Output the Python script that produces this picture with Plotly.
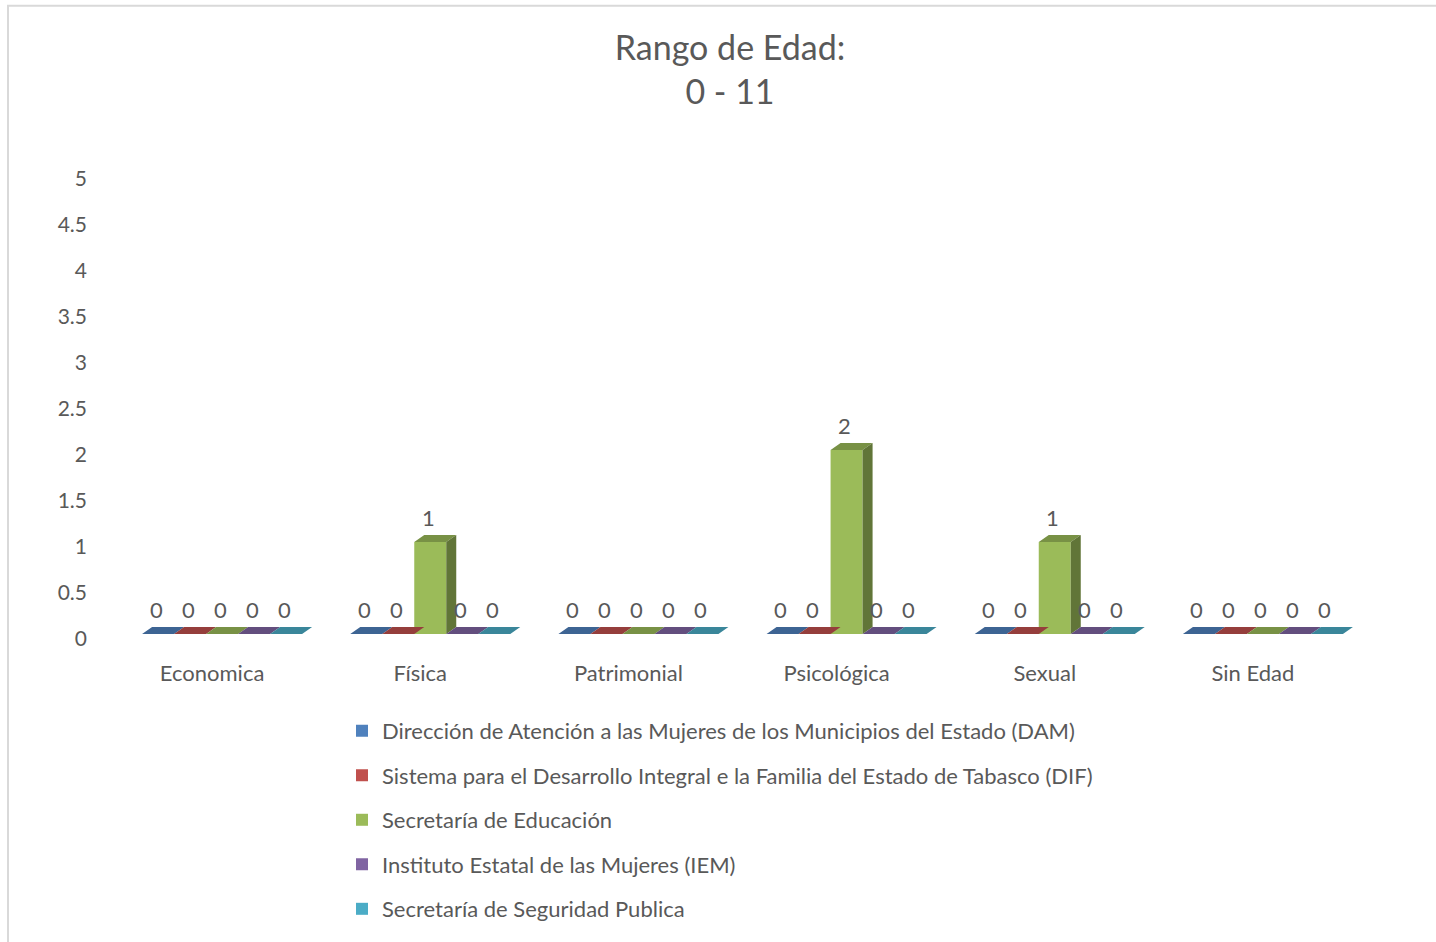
import plotly.graph_objects as go

# ---------------- data ----------------
categories = ["Economica", "Física", "Patrimonial", "Psicológica", "Sexual", "Sin Edad"]
series_names = [
    "Dirección de Atención a las Mujeres de los Municipios del Estado (DAM)",
    "Sistema para el Desarrollo Integral e la Familia del Estado de Tabasco (DIF)",
    "Secretaría de Educación",
    "Instituto Estatal de las Mujeres (IEM)",
    "Secretaría de Seguridad Publica",
]
dam = [0, 0, 0, 0, 0, 0]
dif = [0, 0, 0, 0, 0, 0]
educacion = [0, 1, 0, 2, 1, 0]
iem = [0, 0, 0, 0, 0, 0]
ssp = [0, 0, 0, 0, 0, 0]
y_tick_vals = [0, 0.5, 1, 1.5, 2, 2.5, 3, 3.5, 4, 4.5, 5]
y_tick_text = ["0", "0.5", "1", "1.5", "2", "2.5", "3", "3.5", "4", "4.5", "5"]

series_values = [dam, dif, educacion, iem, ssp]

# ---------------- style ----------------
front_colors = ["#4F81BD", "#C0504D", "#9BBB59", "#8064A2", "#4BACC6"]
TEXT = "#595959"
FONT = "Lato"

W, H = 1436, 942
PL, PR, PT, PB = 118, 1367, 174, 639          # plot area in pixels
px_per_x = (PR - PL) / len(categories)
px_per_y = (PB - PT) / 5.0
bar_w = 32 / px_per_x
dx = 10 / px_per_x
dy = 7 / px_per_y


def shade(hex_col, f):
    h = hex_col.lstrip("#")
    r, g, b = (int(h[k:k + 2], 16) for k in (0, 2, 4))
    return "rgb(%d,%d,%d)" % (r * f, g * f, b * f)


def paper_x(px):
    return (px - PL) / (PR - PL)


def paper_y(py):
    return (PB - py) / (PB - PT)


xpos = list(range(len(categories)))
fig = go.Figure()

annotations = []
for i, (name, vals, col) in enumerate(zip(series_names, series_values, front_colors)):
    off = (i - 2.5) * bar_w
    fig.add_trace(go.Bar(
        x=xpos, y=vals, width=bar_w, offset=off, name=name,
        marker=dict(color=col, line=dict(width=0)),
        legend="legend" if i == 0 else "legend%d" % (i + 1),
        hoverinfo="y+name",
    ))
    tx, ty, sx, sy = [], [], [], []
    for c, v in zip(xpos, vals):
        x0 = c + off
        x1 = x0 + bar_w
        tx += [x0, x1, x1 + dx, x0 + dx, x0, None]
        ty += [v, v, v + dy, v + dy, v, None]
        if v > 0:
            sx += [x1, x1 + dx, x1 + dx, x1, x1, None]
            sy += [0, dy, v + dy, v, 0, None]
        annotations.append(dict(
            x=x0 + bar_w / 2, y=v, xref="x", yref="y", text=str(v),
            showarrow=False, yshift=25, xshift=-2,
            font=dict(family=FONT, size=22, color=TEXT)))
    fig.add_trace(go.Scatter(x=tx, y=ty, mode="lines", fill="toself",
                             fillcolor=shade(col, 0.78), line=dict(width=0),
                             showlegend=False, hoverinfo="skip"))
    if sx:
        fig.add_trace(go.Scatter(x=sx, y=sy, mode="lines", fill="toself",
                                 fillcolor=shade(col, 0.63), line=dict(width=0),
                                 showlegend=False, hoverinfo="skip"))

legend_rows = [737, 782, 827, 872, 917]
legends = {}
for i, ry in enumerate(legend_rows):
    key = "legend" if i == 0 else "legend%d" % (i + 1)
    legends[key] = dict(
        x=paper_x(342), xanchor="left", y=paper_y(ry), yanchor="middle",
        orientation="v", bgcolor="rgba(0,0,0,0)", borderwidth=0,
        font=dict(family=FONT, size=22, color=TEXT),
    )

fig.update_layout(
    width=W, height=H,
    margin=dict(l=PL, r=W - PR, t=PT, b=H - PB, pad=0),
    paper_bgcolor="white", plot_bgcolor="white",
    barmode="overlay",
    title=dict(text="Rango de Edad:<br>0 - 11", x=730 / W,
               xanchor="center", y=1 - 60 / H, yanchor="middle",
               font=dict(family=FONT, size=34, color=TEXT)),
    xaxis=dict(range=[-0.5, len(categories) - 0.5], tickvals=xpos, ticktext=categories,
               showgrid=False, zeroline=False, showline=False, ticks="",
               ticklabelstandoff=24, ticklabelshift=-10,
               tickfont=dict(family=FONT, size=22, color=TEXT)),
    yaxis=dict(range=[0, 5], tickvals=y_tick_vals, ticktext=y_tick_text,
               showgrid=False, zeroline=False, showline=False, ticks="",
               ticklabelstandoff=30, ticklabelshift=5,
               tickfont=dict(family=FONT, size=21, color=TEXT)),
    annotations=annotations,
    shapes=[dict(type="rect", xref="paper", yref="paper",
                 x0=paper_x(8), x1=paper_x(1460), y0=paper_y(960), y1=paper_y(4),
                 line=dict(color="#D9D9D9", width=2), fillcolor="rgba(0,0,0,0)",
                 layer="below")],
    showlegend=True,
    **legends,
)

fig.write_html("out.html", config={"displayModeBar": False},
               post_script="document.body.style.margin='0';document.body.style.overflow='hidden';")
